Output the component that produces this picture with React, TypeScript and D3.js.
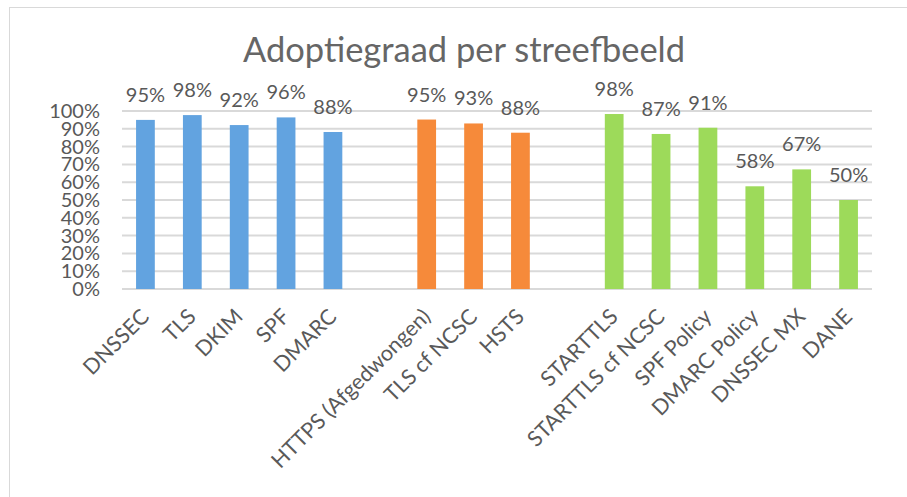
import React from 'react';
import * as d3 from 'd3';

// categories (empty strings are the spacer slots between groups)
const categories = [
    'DNSSEC', 'TLS', 'DKIM', 'SPF', 'DMARC', '',
    'HTTPS (Afgedwongen)', 'TLS cf NCSC', 'HSTS', '',
    'STARTTLS', 'STARTTLS cf NCSC', 'SPF Policy', 'DMARC Policy', 'DNSSEC MX', 'DANE',
];
const adoption = [
    0.95, 0.977, 0.921, 0.964, 0.882, null,
    0.952, 0.93, 0.878, null,
    0.983, 0.871, 0.906, 0.577, 0.672, 0.5,
];
const groups = [
    'web', 'web', 'web', 'web', 'web', null,
    'https', 'https', 'https', null,
    'mail', 'mail', 'mail', 'mail', 'mail', 'mail',
];
const groupColors: Record<string, string> = { web: '#62a3e0', https: '#f68a3a', mail: '#9dda5a' };
const yTicks = [0, 0.1, 0.2, 0.3, 0.4, 0.5, 0.6, 0.7, 0.8, 0.9, 1];

const W = 907;
const H = 497;
const plot = { left: 122, right: 872, top: 111, bottom: 289 };
const font = 'Lato, "Open Sans", sans-serif';
const textColor = '#595959';

const App: React.FC = () => {
    const x = d3.scaleBand<number>()
        .domain(categories.map((_, i) => i))
        .range([plot.left, plot.right])
        .paddingInner(0.6)
        .paddingOuter(0.3);
    const y = d3.scaleLinear().domain([0, 1]).range([plot.bottom, plot.top]);
    const fmt = d3.format('.0%');

    return (
        <svg width={W} height={H} style={{ position: 'absolute', left: 0, top: 0, background: '#fff' }}
            fontFamily={font}>
            {/* chart frame */}
            <rect x={9.5} y={7.5} width={920} height={520} fill="#fff" stroke="#d9d9d9" strokeWidth={1} />

            <text x={464} y={62} textAnchor="middle" fontSize={34.5} fill="#666">
                Adoptiegraad per streefbeeld
            </text>

            {/* gridlines + y labels */}
            {yTicks.map(t => (
                <g key={t}>
                    <line x1={plot.left} x2={plot.right} y1={y(t)} y2={y(t)} stroke="#d9d9d9" strokeWidth={2} />
                    <text x={100} y={y(t)} dy="0.35em" textAnchor="end" fontSize={20} fill={textColor}>
                        {fmt(t)}
                    </text>
                </g>
            ))}

            {/* bars and value labels */}
            {adoption.map((v, i) => v == null ? null : (
                <g key={i}>
                    <rect x={x(i)} y={y(v)} width={x.bandwidth()} height={plot.bottom - y(v)}
                        fill={groupColors[groups[i] as string]} />
                    <text x={(x(i) as number) + x.bandwidth() / 2} y={y(v) - 18} textAnchor="middle"
                        fontSize={20} fill={textColor}>
                        {fmt(v)}
                    </text>
                </g>
            ))}

            {/* rotated category labels */}
            {categories.map((c, i) => c === '' ? null : (
                <text key={i} textAnchor="end" fontSize={21.5} fill={textColor}
                    transform={`translate(${(x(i) as number) + x.bandwidth() / 2 + 5},318) rotate(-45)`}>
                    {c}
                </text>
            ))}
        </svg>
    );
};

export default App;
